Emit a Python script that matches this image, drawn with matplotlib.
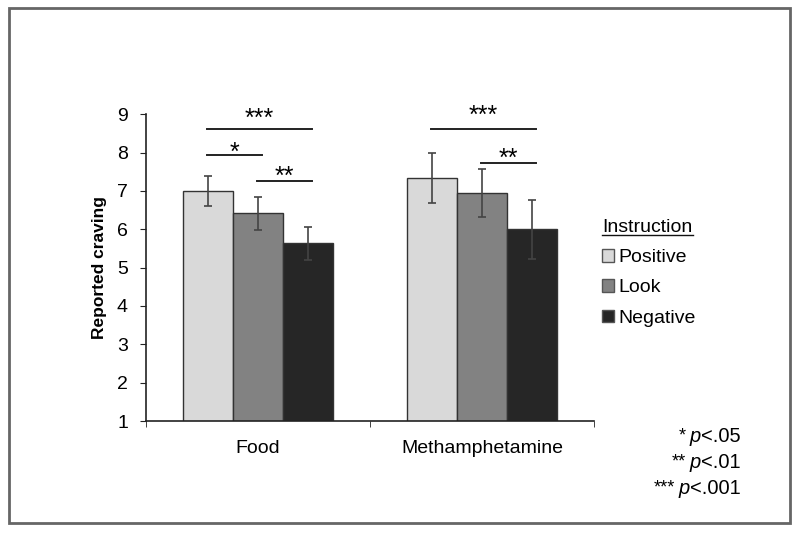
import matplotlib
matplotlib.use("Agg")
import matplotlib.pyplot as plt
import numpy as np
from matplotlib.patches import Rectangle
from matplotlib.lines import Line2D

plt.rcParams['font.family'] = ['Liberation Sans', 'DejaVu Sans']

categories = ["Food", "Methamphetamine"]
instructions = ["Positive", "Look", "Negative"]
means = {
    "Positive": [7.00, 7.33],
    "Look": [6.42, 6.95],
    "Negative": [5.63, 6.00],
}
errors = {
    "Positive": [0.39, 0.65],
    "Look": [0.43, 0.62],
    "Negative": [0.44, 0.77],
}
colors = {"Positive": "#d9d9d9", "Look": "#828282", "Negative": "#262626"}
yticks = [1, 2, 3, 4, 5, 6, 7, 8, 9]

# significance brackets: (group index, bar i, bar j, line y, star y, label)
sig = [
    (0, 0, 2, 8.62, 9.09, "***"),
    (0, 0, 1, 7.94, 8.20, "*"),
    (0, 1, 2, 7.26, 7.57, "**"),
    (1, 0, 2, 8.62, 9.16, "***"),
    (1, 1, 2, 7.74, 8.04, "**"),
]
p_notes = ["*", "**", "***"]
p_vals = ["<.05", "<.01", "<.001"]

fig = plt.figure(figsize=(8, 5.34), dpi=100)
ax = fig.add_axes([0.1825, 0.2116, 0.56, 0.5744])

x = np.arange(len(categories))
w = 0.223
offsets = [-w, 0, w]
handles = []
for k, ins in enumerate(instructions):
    b = ax.bar(x + offsets[k], means[ins], w, bottom=0, color=colors[ins],
               edgecolor="#333333", linewidth=1.0, label=ins, zorder=2)
    ax.errorbar(x + offsets[k], means[ins], yerr=errors[ins], fmt='none',
                ecolor="#444444", elinewidth=1.2, capsize=3, capthick=1.2, zorder=3)
    handles.append(b)

for g, i, j, y, ys, lab in sig:
    x1 = x[g] + offsets[i] - 0.005
    x2 = x[g] + offsets[j] + 0.02
    ax.plot([x1, x2], [y, y], color="#222222", lw=1.4, zorder=3, clip_on=False)
    ax.text((x1 + x2) / 2, ys - 0.2, lab, ha='center',
            va='center', fontsize=18, clip_on=False)

ax.set_ylim(1, 9)
ax.set_xlim(-0.5, 1.5)
ax.set_yticks(yticks)
ax.set_yticklabels([str(t) for t in yticks], fontsize=14)
ax.set_xticks(x)
ax.set_xticklabels(categories, fontsize=14)
ax.tick_params(axis='x', length=0, pad=14)
ax.set_xticks([-0.5, 0.5, 1.5], minor=True)
ax.tick_params(axis='x', which='minor', length=4, direction='out', color='#222222')
ax.tick_params(axis='y', length=4, direction='out', color='#222222', pad=9)
for s in ['top', 'right']:
    ax.spines[s].set_visible(False)
ax.spines['left'].set_color('#222222')
ax.spines['bottom'].set_color('#222222')
ax.spines['left'].set_linewidth(1.2)
ax.spines['bottom'].set_linewidth(1.2)
ax.set_ylabel("Reported craving", fontsize=12.5, fontweight='bold', labelpad=7)

leg = fig.legend(handles=handles, labels=instructions, loc='upper left',
                 bbox_to_anchor=(0.753, 1 - 219 / 534), frameon=False, fontsize=14,
                 title="Instruction", title_fontsize=14, alignment='left',
                 handlelength=0.6, handleheight=0.6, handletextpad=0.2,
                 labelspacing=0.68, borderaxespad=0, borderpad=0)
for p in leg.get_patches():
    p.set_linewidth(1.0)
    p.set_edgecolor('#555555')

fig.canvas.draw()
r = fig.canvas.get_renderer()
W, H = fig.get_size_inches() * fig.dpi
bb = leg.get_title().get_window_extent(r)
uy = (bb.y0 + 1) / H
fig.add_artist(Line2D([bb.x0 / W, bb.x1 / W], [uy, uy], color='#111111', lw=1.0))

for k, (n, pv) in enumerate(zip(p_notes, p_vals)):
    yy = 1 - (442 + 26 * k) / 534
    t1 = fig.text(0.926, yy, pv, fontsize=14.5, ha='right', va='baseline')
    fig.canvas.draw()
    b1 = t1.get_window_extent(r)
    t2 = fig.text(b1.x0 / W, yy, "p", fontsize=14.5, ha='right', va='baseline',
                  style='italic')
    fig.canvas.draw()
    b2 = t2.get_window_extent(r)
    fig.text((b2.x0 - 4) / W, yy + 2 / H, n, fontsize=13, ha='right', va='baseline')

fig.add_artist(Rectangle((0.011, 0.02), 0.977, 0.965, transform=fig.transFigure,
                         fill=False, edgecolor='#666666', lw=2))
fig.savefig("out.png", dpi=100)
